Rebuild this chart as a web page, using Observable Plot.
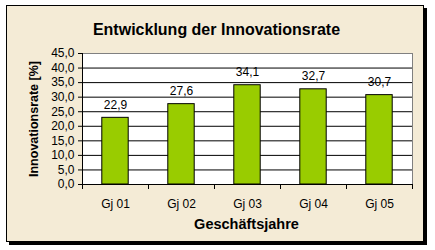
<!DOCTYPE html>
<html><head><meta charset="utf-8">
<script src="https://cdn.jsdelivr.net/npm/d3@7"></script>
<script src="https://cdn.jsdelivr.net/npm/@observablehq/plot@0.6"></script>
<style>
html,body{margin:0;padding:0;background:#fff;}
#wrap{position:relative;width:435px;height:250px;overflow:hidden;}
#card{position:absolute;left:6px;top:5px;width:418px;height:237px;box-sizing:border-box;border:1px solid #000;box-shadow:3px 3px 0 #000;background:#f4ebd6;}
#chart{position:absolute;left:0;top:0;}
</style></head><body><div id="wrap"><div id="card"></div><div id="chart"></div></div>
<script>
const title = "Entwicklung der Innovationsrate";
const xTitle = "Geschäftsjahre";
const yTitle = "Innovationsrate [%]";
const categories = ["Gj 01", "Gj 02", "Gj 03", "Gj 04", "Gj 05"];
const values = [22.9, 27.6, 34.1, 32.7, 30.7];
const yTicks = [0, 5, 10, 15, 20, 25, 30, 35, 40, 45];

const fmt = v => v.toFixed(1).replace(".", ",");
const rows = categories.map((c, i) => ({i, category: c, value: values[i]}));
const boundaries = d3.range(categories.length + 1);
const centers = categories.map((c, i) => i + 0.5);
const gridValues = yTicks.filter(v => v > 0 && v < d3.max(yTicks));

const chart = Plot.plot({
  width: 435, height: 250,
  marginTop: 53, marginRight: 23, marginBottom: 66, marginLeft: 82,
  x: {type: "linear", domain: [0, categories.length]},
  y: {domain: [0, d3.max(yTicks)]},
  style: {fontFamily: "'Liberation Sans', Arial, sans-serif", fontSize: "12px", background: "transparent", color: "#000", overflow: "visible"},
  marks: [
    Plot.frame({fill: "#fff", stroke: "#808080"}),
    Plot.ruleY(gridValues, {stroke: "#000"}),
    Plot.rect(rows, {x1: d => d.i + 0.3, x2: d => d.i + 0.7, y1: 0, y2: "value", fill: "#99cc00", stroke: "#000", strokeWidth: 1}),
    Plot.ruleY([0], {stroke: "#000"}),
    Plot.ruleX([0], {stroke: "#000"}),
    Plot.axisY(yTicks, {tickSize: 4, tickPadding: 4, tickFormat: fmt, label: null, fontSize: 12}),
    Plot.axisX(boundaries, {tickSize: 5, tickFormat: () => "", label: null}),
    Plot.axisX(centers, {tickSize: 0, tickPadding: 15, tickFormat: d => categories[Math.floor(d)], label: null, fontSize: 12}),
    Plot.text(rows, {x: d => d.i + 0.5, y: "value", text: d => fmt(d.value), dy: -9, lineAnchor: "bottom", fontSize: 12}),
    Plot.text([title], {frameAnchor: "top", dx: -31, dy: -19, lineAnchor: "bottom", fontSize: 16, fontWeight: "bold"}),
    Plot.text([xTitle], {frameAnchor: "bottom", dx: -1, dy: 44, lineAnchor: "bottom", fontSize: 14.5, fontWeight: "bold"}),
    Plot.text([yTitle], {frameAnchor: "left", dx: -45, rotate: -90, textAnchor: "middle", lineAnchor: "bottom", fontSize: 12.5, fontWeight: "bold"})
  ]
});
document.getElementById("chart").append(chart);
</script>
</body></html>
